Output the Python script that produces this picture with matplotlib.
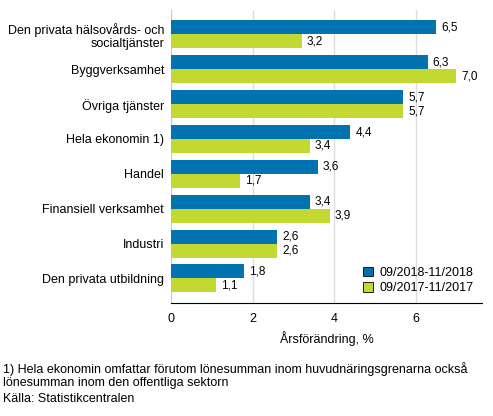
import matplotlib.pyplot as plt
import numpy as np

plt.rcParams['font.family'] = ['Liberation Sans', 'DejaVu Sans']

# data
categories = ['Den privata hälsovårds- och\nsocialtjänster', 'Byggverksamhet', 'Övriga tjänster',
              'Hela ekonomin 1)', 'Handel', 'Finansiell verksamhet', 'Industri',
              'Den privata utbildning']
series_2018 = [6.5, 6.3, 5.7, 4.4, 3.6, 3.4, 2.6, 1.8]
series_2017 = [3.2, 7.0, 5.7, 3.4, 1.7, 3.9, 2.6, 1.1]
labels = ['09/2018-11/2018', '09/2017-11/2017']

blue = '#0073b0'
green = '#c3d830'

fig = plt.figure(figsize=(4.93, 4.16), dpi=100)
ax = fig.add_axes([0.347, 0.272, 0.631, 0.704])

y = np.arange(len(categories))
h = 0.4
b1 = ax.barh(y - h / 2, series_2018, height=h, color=blue, label=labels[0], zorder=3)
b2 = ax.barh(y + h / 2, series_2017, height=h, color=green, label=labels[1], zorder=3)

for bars, vals in ((b1, series_2018), (b2, series_2017)):
    for bar, v in zip(bars, vals):
        ax.text(v + 0.12, bar.get_y() + bar.get_height() / 2, f'{v:.1f}'.replace('.', ','),
                va='center', ha='left', fontsize=8.5)

ax.set_ylim(len(categories) - 0.3, -0.7)
ax.set_xlim(0, 7.63)
ax.set_yticks(y)
ax.set_yticklabels(categories, fontsize=9, linespacing=1.15)
ax.set_xticks([0, 2, 4, 6])
ax.set_xticklabels(['0', '2', '4', '6'], fontsize=9)
ax.tick_params(axis='y', length=0, pad=5)
ax.tick_params(axis='x', length=0, pad=7)
ax.xaxis.grid(True, color='#dddddd', linewidth=1, zorder=0)
ax.set_axisbelow(True)
for s in ('top', 'right'):
    ax.spines[s].set_visible(False)
ax.spines['left'].set_color('#cccccc')
ax.spines['bottom'].set_color('black')
ax.set_xlabel('Årsförändring, %', fontsize=9, labelpad=5)

leg = ax.legend(loc='lower right', frameon=False, fontsize=9, handlelength=0.8, handleheight=0.8,
                handletextpad=0.5, borderaxespad=0.3, labelspacing=0.25)
for p in leg.get_patches():
    p.set_edgecolor('black')
    p.set_linewidth(0.6)

fig.text(0.006, 0.097, '1) Hela ekonomin omfattar förutom lönesumman inom huvudnäringsgrenarna också\n'
         'lönesumman inom den offentliga sektorn', fontsize=9, va='center', linespacing=1.1)
fig.text(0.006, 0.041, 'Källa: Statistikcentralen', fontsize=9, va='center')

fig.savefig('out.png', dpi=100)
